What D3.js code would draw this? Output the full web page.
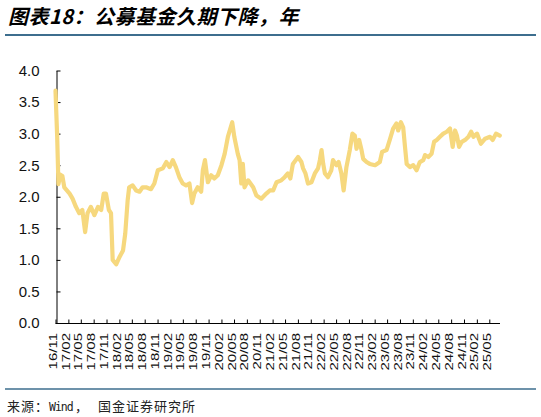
<!DOCTYPE html>
<html><head><meta charset="utf-8">
<script src="https://cdn.jsdelivr.net/npm/d3@7"></script>
<style>body{margin:0;background:#fff}</style>
</head><body>
<svg id="c" width="541" height="417"></svg>
<script>
const titleText = "图表18：公募基金久期下降，年";
const sourceParts = ["来源：", "Wind", "，", "国金证券研究所"];
const xTickLabels = ["16/11","17/02","17/05","17/08","17/11","18/02","18/05","18/08","18/11",
  "19/02","19/05","19/08","19/11","20/02","20/05","20/08","20/11","21/02","21/05","21/08","21/11",
  "22/02","22/05","22/08","22/11","23/02","23/05","23/08","23/11","24/02","24/05","24/08","24/11",
  "25/02","25/05"];
const yTicks = [0, 0.5, 1, 1.5, 2, 2.5, 3, 3.5, 4];
const dates = ["2016-11-01","2016-11-13","2016-11-22","2016-12-06","2016-12-20","2017-01-03","2017-02-10","2017-03-03","2017-03-27","2017-04-20","2017-05-12","2017-06-01","2017-06-18","2017-07-12","2017-08-06","2017-09-01","2017-09-24","2017-10-12","2017-10-28","2017-11-18","2017-12-03","2017-12-15","2018-01-09","2018-02-03","2018-02-27","2018-03-15","2018-04-01","2018-04-12","2018-05-07","2018-06-01","2018-06-25","2018-07-17","2018-08-11","2018-09-15","2018-10-09","2018-11-03","2018-12-09","2019-01-03","2019-01-26","2019-02-18","2019-03-12","2019-04-06","2019-04-30","2019-05-24","2019-06-17","2019-07-06","2019-07-22","2019-08-15","2019-09-09","2019-09-21","2019-10-06","2019-10-27","2019-11-20","2019-12-12","2020-01-06","2020-02-01","2020-02-24","2020-03-18","2020-04-18","2020-05-03","2020-05-28","2020-06-10","2020-06-22","2020-07-03","2020-07-15","2020-08-10","2020-09-15","2020-10-08","2020-11-12","2020-12-18","2021-01-12","2021-02-05","2021-03-01","2021-04-04","2021-04-28","2021-05-21","2021-06-08","2021-06-26","2021-08-02","2021-08-26","2021-09-07","2021-09-24","2021-10-12","2021-11-06","2021-11-30","2021-12-23","2022-01-05","2022-01-17","2022-01-29","2022-02-10","2022-03-04","2022-03-28","2022-04-09","2022-05-03","2022-05-19","2022-06-08","2022-06-24","2022-07-14","2022-08-07","2022-08-26","2022-09-12","2022-09-24","2022-10-13","2022-10-30","2022-11-11","2022-12-05","2022-12-28","2023-02-04","2023-03-10","2023-03-26","2023-04-27","2023-05-20","2023-06-13","2023-07-07","2023-07-19","2023-08-08","2023-08-24","2023-09-06","2023-09-18","2023-10-11","2023-11-04","2023-11-28","2023-12-21","2024-01-15","2024-01-27","2024-02-20","2024-03-14","2024-04-01","2024-04-20","2024-05-13","2024-06-06","2024-07-01","2024-07-24","2024-08-12","2024-08-29","2024-09-11","2024-09-27","2024-10-16","2024-11-09","2024-12-03","2024-12-22","2025-01-08","2025-02-02","2025-03-02","2025-04-01","2025-05-06","2025-05-25","2025-06-18","2025-07-15"];
const durations = [3.68,2.95,2.20,2.35,2.33,2.15,2.05,1.97,1.84,1.74,1.79,1.44,1.74,1.84,1.71,1.84,1.79,2.05,2.05,1.79,1.74,1.00,0.93,1.05,1.15,1.42,1.94,2.15,2.18,2.10,2.08,2.15,2.15,2.12,2.21,2.42,2.45,2.55,2.47,2.58,2.47,2.31,2.21,2.18,2.21,1.90,2.05,2.15,2.08,2.42,2.58,2.23,2.34,2.29,2.34,2.50,2.68,2.95,3.18,2.95,2.68,2.58,2.21,2.52,2.15,2.26,2.15,2.02,1.97,2.05,2.10,2.10,2.23,2.26,2.31,2.37,2.29,2.52,2.63,2.55,2.45,2.37,2.21,2.23,2.37,2.45,2.58,2.74,2.52,2.37,2.31,2.42,2.58,2.50,2.55,2.37,2.10,2.47,2.74,3.00,2.97,2.76,2.90,2.74,2.60,2.55,2.52,2.50,2.55,2.71,2.74,2.90,3.08,3.16,3.05,3.18,3.10,2.79,2.52,2.47,2.50,2.42,2.55,2.58,2.66,2.63,2.68,2.87,2.90,2.95,3.00,3.03,3.08,2.79,3.05,2.97,2.79,2.87,2.90,2.95,3.03,2.95,3.00,2.84,2.92,2.95,2.90,3.00,2.97];

const svg = d3.select("#c");
const parseDay = d3.timeParse("%Y-%m-%d");
const parseTick = d3.timeParse("%y/%m");
const tickDates = xTickLabels.map(parseTick);
const data = dates.map((d, i) => ({ date: parseDay(d), v: durations[i] }));

const x = d3.scaleTime().domain([tickDates[0], tickDates[tickDates.length - 1]]).range([55.5, 489.3]);
const y = d3.scaleLinear().domain([0, 4]).range([323, 70.5]);
const axisRight = 500;

// title
svg.append("text").attr("x", 8).attr("y", 24)
  .attr("font-family", "'Noto Sans CJK SC'").attr("font-size", 20)
  .attr("font-weight", "bold").attr("font-style", "italic").attr("fill", "#000")
  .attr("letter-spacing", 0.5)
  .text(titleText);
// rules
svg.append("line").attr("x1", 5).attr("x2", 536).attr("y1", 35).attr("y2", 35)
  .attr("stroke", "#3d6e8e").attr("stroke-width", 2);
svg.append("line").attr("x1", 5).attr("x2", 536).attr("y1", 389).attr("y2", 389)
  .attr("stroke", "#3d6e8e").attr("stroke-width", 1.5);

// y axis
const gy = svg.append("g").attr("transform", "translate(56.5,0)")
  .call(d3.axisLeft(y).tickValues(yTicks).tickSize(-4).tickSizeOuter(0).tickPadding(17).tickFormat(d3.format(".1f")));
gy.attr("font-family", "'Liberation Sans', Arial, sans-serif").attr("font-size", 15);
gy.selectAll("text").attr("fill", "#111");
gy.selectAll("line,path").attr("stroke", "#000");

// x axis
const gx = svg.append("g").attr("transform", "translate(0,323)")
  .call(d3.axisBottom(x).tickValues(tickDates).tickSize(-4).tickSizeOuter(0).tickFormat(d3.timeFormat("%y/%m")));
gx.select(".domain").remove();
gx.append("line").attr("x1", x.range()[0]).attr("x2", axisRight).attr("y1", 0.5).attr("y2", 0.5).attr("stroke", "#000");
gx.selectAll(".tick line").attr("stroke", "#000").attr("transform", "translate(0,0.5)");
gx.attr("font-family", "'Liberation Sans', Arial, sans-serif").attr("font-size", 10);
gx.selectAll(".tick text")
  .attr("x", 0).attr("y", 0).attr("dy", "0.36em")
  .attr("text-anchor", "end").attr("fill", "#111")
  .attr("transform", "translate(-2.5,10) rotate(-90) scale(1.5,1)");

// line
svg.append("path").datum(data)
  .attr("fill", "none").attr("stroke", "#F6D87E").attr("stroke-width", 4.2)
  .attr("stroke-linejoin", "round").attr("stroke-linecap", "round")
  .attr("d", d3.line().x(d => x(d.date)).y(d => y(d.v)));

// source (single text, tspans)
const src = svg.append("text").attr("y", 411).attr("font-size", 13).attr("fill", "#222")
  .attr("font-family", "'Noto Sans CJK SC'");
src.append("tspan").attr("x", 7).attr("letter-spacing", 1).text(sourceParts[0]);
src.append("tspan").attr("x", 49).attr("font-family", "'DejaVu Sans Mono', monospace").attr("font-size", 11.5)
  .attr("letter-spacing", -1).text(sourceParts[1]);
src.append("tspan").attr("x", 75).text(sourceParts[2]);
src.append("tspan").attr("x", 98).attr("letter-spacing", 1).text(sourceParts[3]);
</script>
</body></html>
